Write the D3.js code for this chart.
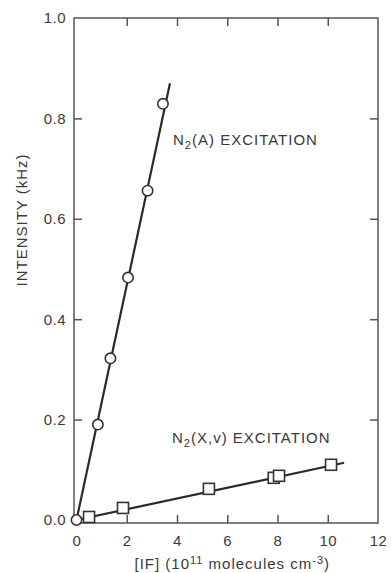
<!DOCTYPE html>
<html>
<head>
<meta charset="utf-8">
<script src="https://cdn.jsdelivr.net/npm/d3@7"></script>
<style>
  body { margin: 0; background: #fff; }
  text { font-family: "Liberation Sans", Arial, sans-serif; fill: #3a3a3a; }
</style>
</head>
<body>
<div id="graph"></div>
<script>
// measured points, [IF] in 1e11 molecules cm-3, intensity in kHz
var ifA = [0, 0.85, 1.35, 2.05, 2.83, 3.44];
var intA = [0, 0.19, 0.322, 0.483, 0.656, 0.829];
var ifX = [0.5, 1.85, 5.27, 7.85, 8.06, 10.13];
var intX = [0.006, 0.024, 0.062, 0.084, 0.088, 0.11];
// fitted lines (end points)
var fitA = [[0, 0], [3.72, 0.87]];
var fitX = [[0, 0], [10.65, 0.114]];
var xTicks = [0, 2, 4, 6, 8, 10, 12];
var yTicks = [0, 0.2, 0.4, 0.6, 0.8, 1.0];

var margin = {top: 18, right: 13, bottom: 50, left: 74},
    width = 391 - margin.left - margin.right,
    height = 573 - margin.top - margin.bottom;

var x = d3.scaleLinear().domain([-0.1, 12]).range([0, width]);
var y = d3.scaleLinear().domain([-0.006, 1.0]).range([height, 0]);

var svg = d3.select("#graph").append("svg")
    .attr("width", 391)
    .attr("height", 573)
  .append("g")
    .attr("transform", "translate(" + margin.left + "," + margin.top + ")");

var tk = 8;
var axisColor = "#555";

function styleAxis(g) {
  g.select(".domain").remove();
  g.selectAll(".tick line").attr("stroke", axisColor).attr("stroke-width", 1.5);
  g.selectAll(".tick text").style("font-size", "15px").style("letter-spacing", "0.5px").attr("fill", "#3a3a3a");
}

// bottom axis: labels, inner ticks
svg.append("g")
    .attr("transform", "translate(0," + height + ")")
    .call(d3.axisBottom(x).tickValues(xTicks).tickSize(0).tickPadding(12).tickFormat(d3.format("d")))
    .call(styleAxis);
svg.append("g")
    .attr("transform", "translate(0," + height + ")")
    .call(d3.axisTop(x).tickValues(xTicks.slice(1, -1)).tickSize(tk).tickFormat(""))
    .call(styleAxis);
svg.append("g")
    .call(d3.axisBottom(x).tickValues(xTicks.slice(1, -1)).tickSize(tk).tickFormat(""))
    .call(styleAxis);

// left axis
svg.append("g")
    .call(d3.axisLeft(y).tickValues(yTicks).tickSize(0).tickPadding(8).tickFormat(d3.format(".1f")))
    .call(styleAxis);
svg.append("g")
    .call(d3.axisRight(y).tickValues(yTicks.slice(1, -1)).tickSize(tk).tickFormat(""))
    .call(styleAxis);
svg.append("g")
    .attr("transform", "translate(" + width + ",0)")
    .call(d3.axisLeft(y).tickValues(yTicks.slice(1, -1)).tickSize(tk).tickFormat(""))
    .call(styleAxis);

// frame
svg.append("rect")
    .attr("x", 0).attr("y", 0)
    .attr("width", width).attr("height", height)
    .attr("fill", "none")
    .attr("stroke", axisColor)
    .attr("stroke-width", 1.5);

var line = d3.line()
    .x(function(d) { return x(d[0]); })
    .y(function(d) { return y(d[1]); });

svg.append("path").datum(fitA)
    .attr("d", line)
    .attr("fill", "none").attr("stroke", "#2a2a2a").attr("stroke-width", 2.2);
svg.append("path").datum(fitX)
    .attr("d", line)
    .attr("fill", "none").attr("stroke", "#2a2a2a").attr("stroke-width", 2.2);

svg.selectAll(".sq")
    .data(ifX)
  .enter().append("rect")
    .attr("class", "sq")
    .attr("x", function(d) { return x(d) - 5.5; })
    .attr("y", function(d, i) { return y(intX[i]) - 5.5; })
    .attr("width", 11).attr("height", 11)
    .attr("fill", "#fff").attr("stroke", "#333").attr("stroke-width", 1.6);

svg.selectAll(".dot")
    .data(ifA)
  .enter().append("circle")
    .attr("class", "dot")
    .attr("r", 5.2)
    .attr("cx", function(d) { return x(d); })
    .attr("cy", function(d, i) { return y(intA[i]); })
    .attr("fill", "#fff").attr("stroke", "#333").attr("stroke-width", 1.6);

// series labels
function seriesLabel(tx, ty, rest) {
  var t = svg.append("text")
      .attr("x", tx).attr("y", ty)
      .style("font-size", "15px")
      .style("letter-spacing", "1px");
  t.append("tspan").text("N");
  t.append("tspan").attr("dy", 4).style("font-size", "11px").text("2");
  t.append("tspan").attr("dy", -4).text(rest);
}
seriesLabel(99, 127, "(A) EXCITATION");
seriesLabel(98, 425, "(X,v) EXCITATION");

// axis titles
var xl = svg.append("text")
    .attr("x", x(6.2)).attr("y", height + 46)
    .style("font-size", "15px")
    .style("letter-spacing", "1px")
    .style("text-anchor", "middle");
xl.append("tspan").text("[IF] (10");
xl.append("tspan").attr("dy", -5).style("font-size", "11px").text("11");
xl.append("tspan").attr("dy", 5).text(" molecules cm");
xl.append("tspan").attr("dy", -5).style("font-size", "11px").text("-3");
xl.append("tspan").attr("dy", 5).text(")");

svg.append("text")
    .attr("transform", "rotate(-90)")
    .attr("x", -(220 - margin.top))
    .attr("y", -47)
    .style("font-size", "15px")
    .style("letter-spacing", "1px")
    .style("text-anchor", "middle")
    .text("INTENSITY (kHz)");
</script>
</body>
</html>
